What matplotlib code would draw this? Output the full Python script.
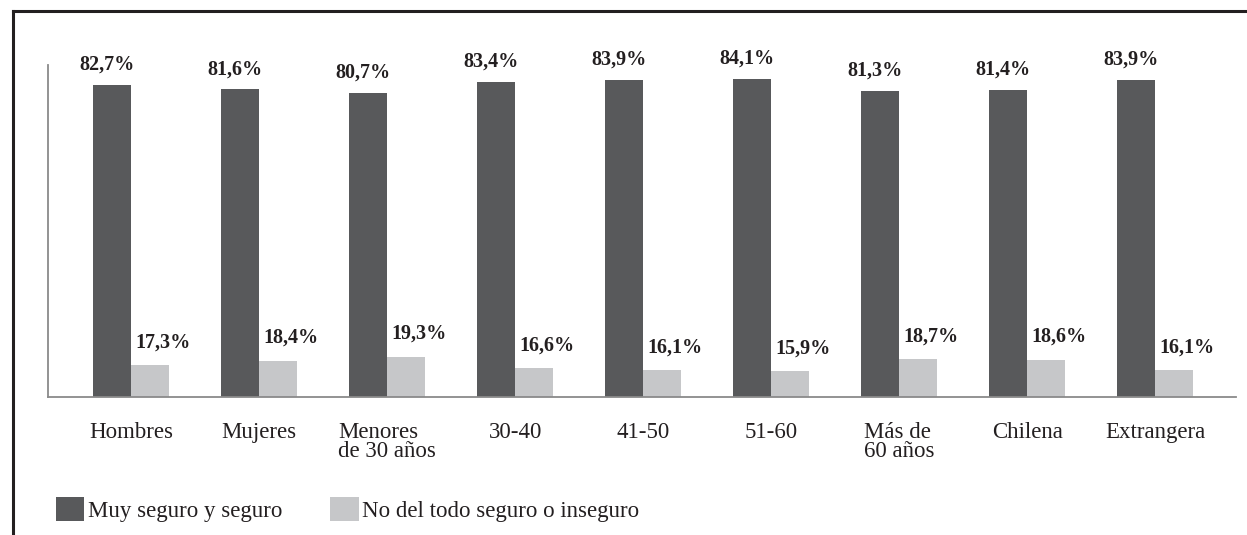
import matplotlib
matplotlib.use("Agg")
import matplotlib.pyplot as plt
import numpy as np
from matplotlib.patches import Patch
from matplotlib.lines import Line2D

# Datos por grupo
categorias = ["Hombres", "Mujeres", "Menores\nde 30 años", "30-40", "41-50",
              "51-60", "Más de\n60 años", "Chilena", "Extrangera"]
seguro = [82.7, 81.6, 80.7, 83.4, 83.9, 84.1, 81.3, 81.4, 83.9]
inseguro = [17.3, 18.4, 19.3, 16.6, 16.1, 15.9, 18.7, 18.6, 16.1]
series = ["Muy seguro y seguro", "No del todo seguro o inseguro"]

oscuro = "#58595b"
claro = "#c6c7c9"
texto = "#231f20"

plt.rcParams["font.family"] = ["Liberation Serif", "DejaVu Serif"]

fig = plt.figure(figsize=(12.47, 5.35), dpi=100)
ax = fig.add_axes([0.0385, 0.258, 0.9527, 0.6205])

x = np.arange(len(categorias))
w = 0.297

ax.bar(x - w / 2, seguro, w, color=oscuro, zorder=2)
ax.bar(x + w / 2, inseguro, w, color=claro, zorder=2)

# Etiquetas de valor
for i in range(len(x)):
    ax.annotate(f"{seguro[i]:.1f}%".replace(".", ","), (x[i] - w / 2, seguro[i]),
                xytext=(-4, 11), textcoords="offset points", ha="center",
                va="baseline", fontsize=14.5, fontweight="bold", color=texto)
    ax.annotate(f"{inseguro[i]:.1f}%".replace(".", ","), (x[i], inseguro[i]),
                xytext=(3, 13), textcoords="offset points", ha="left",
                va="baseline", fontsize=14.5, fontweight="bold", color=texto)

ax.set_xlim(-0.65, 8.63)
ax.set_ylim(9.9, 87.3)
ax.set_yticks([])
ax.set_xticks(x)
ax.set_xticklabels(categorias, fontsize=16.5, color=texto, linespacing=0.9)
for lbl in ax.get_xticklabels():
    lbl.set_multialignment("left")
ax.tick_params(axis="x", length=0, pad=18)

for s in ["top", "right"]:
    ax.spines[s].set_visible(False)
for s in ["left", "bottom"]:
    ax.spines[s].set_color("#8a8a8a")
    ax.spines[s].set_linewidth(1.3)
    ax.spines[s].set_zorder(3)

# Leyenda
handles = [Patch(facecolor=oscuro, edgecolor="none"),
           Patch(facecolor=claro, edgecolor="none")]
fig.legend(handles, series, loc="lower left", bbox_to_anchor=(0.028, -0.014),
           ncol=2, frameon=False, fontsize=16.5, handlelength=1.25,
           handleheight=1.25, handletextpad=0.15, columnspacing=2.1,
           labelcolor=texto)

# Marco superior e izquierdo
fig.add_artist(Line2D([0.0105, 1.0], [0.979, 0.979], color="#231f20", lw=2.2,
                      transform=fig.transFigure))
fig.add_artist(Line2D([0.0105, 0.0105], [0.0, 0.979], color="#231f20", lw=2.2,
                      transform=fig.transFigure))

fig.savefig("out.png", dpi=100)
